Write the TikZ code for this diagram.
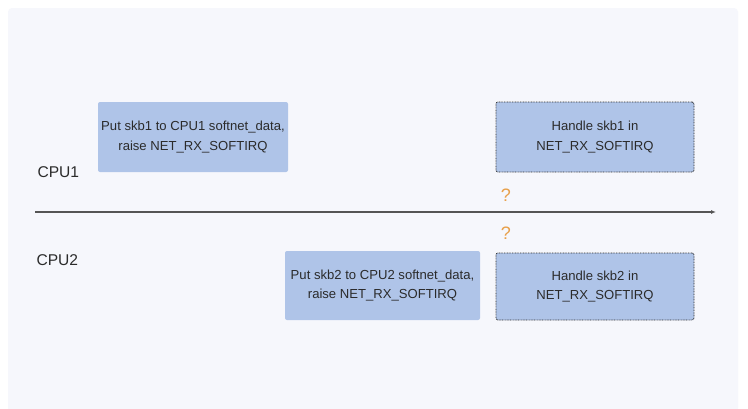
\documentclass[tikz,border=0pt]{standalone}
\usepackage{fontspec}
\setmainfont{Liberation Sans}
\usetikzlibrary{arrows.meta}
\definecolor{panel}{HTML}{F6F7FC}
\definecolor{boxfill}{HTML}{AFC4E8}
\definecolor{txt}{HTML}{2B2B2B}
\definecolor{axis}{HTML}{555555}
\definecolor{qmark}{HTML}{E8A04A}
\tikzset{
  box/.style={fill=boxfill, rounded corners=2pt, align=center, text=txt, font=\fontsize{13.1}{19.5}\selectfont, inner sep=0pt},
  dotbox/.style={box, draw=txt, dash pattern=on 0.8pt off 0.8pt, line width=0.8pt},
  lbl/.style={text=txt, font=\fontsize{15.6}{17}\selectfont, anchor=west},
  qm/.style={text=qmark, font=\fontsize{18}{18}\selectfont}
}
\begin{document}
\begin{tikzpicture}[x=1pt,y=-1pt]
\useasboundingbox (0,0) rectangle (748,408);
\fill[white] (0,0) rectangle (748,408);
\fill[panel, rounded corners=4pt] (8,8) rectangle (738,416);
\node[box, minimum width=190pt, minimum height=70pt] (b1) at (193,137) {Put skb1 to CPU1 softnet\_data,\\raise NET\_RX\_SOFTIRQ};
\node[dotbox, minimum width=198pt, minimum height=70pt] (b2) at (595,137) {Handle skb1 in\\NET\_RX\_SOFTIRQ};
\node[box, minimum width=195pt, minimum height=69pt] (b3) at (382.5,285.5) {Put skb2 to CPU2 softnet\_data,\\raise NET\_RX\_SOFTIRQ};
\node[dotbox, minimum width=198pt, minimum height=67pt] (b4) at (595,286.5) {Handle skb2 in\\NET\_RX\_SOFTIRQ};
\node[lbl] (c1) at (34,172) {CPU1};
\node[lbl] (c2) at (33,260) {CPU2};
\coordinate (a0) at (35,212);
\coordinate (a1) at (716,212);
\draw[axis, line width=1.3pt, -{Latex[length=5pt,width=4pt]}] (a0) -- (a1);
\node[qm] (q1) at (506,195) {?};
\node[qm] (q2) at (506,233) {?};
\end{tikzpicture}
\end{document}
